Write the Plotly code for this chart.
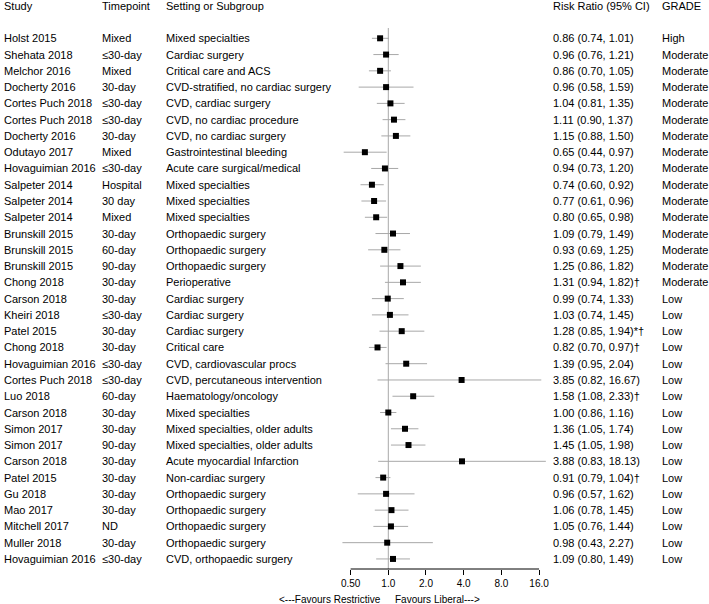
import plotly.graph_objects as go

# ── Data ──────────────────────────────────────────────────────────────────────
studies = [
    "Holst 2015", "Shehata 2018", "Melchor 2016", "Docherty 2016", "Cortes Puch 2018",
    "Cortes Puch 2018", "Docherty 2016", "Odutayo 2017", "Hovaguimian 2016", "Salpeter 2014",
    "Salpeter 2014", "Salpeter 2014", "Brunskill 2015", "Brunskill 2015", "Brunskill 2015",
    "Chong 2018", "Carson 2018", "Kheiri 2018", "Patel 2015", "Chong 2018",
    "Hovaguimian 2016", "Cortes Puch 2018", "Luo 2018", "Carson 2018", "Simon 2017",
    "Simon 2017", "Carson 2018", "Patel 2015", "Gu 2018", "Mao 2017",
    "Mitchell 2017", "Muller 2018", "Hovaguimian 2016",
]
timepoints = [
    "Mixed", "≤30-day", "Mixed", "30-day", "≤30-day",
    "≤30-day", "30-day", "Mixed", "≤30-day", "Hospital",
    "30 day", "Mixed", "30-day", "60-day", "90-day",
    "30-day", "30-day", "≤30-day", "30-day", "30-day",
    "≤30-day", "≤30-day", "60-day", "30-day", "30-day",
    "90-day", "30-day", "30-day", "30-day", "30-day",
    "ND", "30-day", "≤30-day",
]
settings = [
    "Mixed specialties", "Cardiac surgery", "Critical care and ACS",
    "CVD-stratified, no cardiac surgery", "CVD, cardiac surgery",
    "CVD, no cardiac procedure", "CVD, no cardiac surgery", "Gastrointestinal bleeding",
    "Acute care surgical/medical", "Mixed specialties",
    "Mixed specialties", "Mixed specialties", "Orthopaedic surgery",
    "Orthopaedic surgery", "Orthopaedic surgery",
    "Perioperative", "Cardiac surgery", "Cardiac surgery", "Cardiac surgery", "Critical care",
    "CVD, cardiovascular procs", "CVD, percutaneous intervention", "Haematology/oncology",
    "Mixed specialties", "Mixed specialties, older adults",
    "Mixed specialties, older adults", "Acute myocardial Infarction", "Non-cardiac surgery",
    "Orthopaedic surgery", "Orthopaedic surgery",
    "Orthopaedic surgery", "Orthopaedic surgery", "CVD, orthopaedic surgery",
]
rr = [0.86, 0.96, 0.86, 0.96, 1.04, 1.11, 1.15, 0.65, 0.94, 0.74,
      0.77, 0.80, 1.09, 0.93, 1.25, 1.31, 0.99, 1.03, 1.28, 0.82,
      1.39, 3.85, 1.58, 1.00, 1.36, 1.45, 3.88, 0.91, 0.96, 1.06,
      1.05, 0.98, 1.09]
ci_low = [0.74, 0.76, 0.70, 0.58, 0.81, 0.90, 0.88, 0.44, 0.73, 0.60,
          0.61, 0.65, 0.79, 0.69, 0.86, 0.94, 0.74, 0.74, 0.85, 0.70,
          0.95, 0.82, 1.08, 0.86, 1.05, 1.05, 0.83, 0.79, 0.57, 0.78,
          0.76, 0.43, 0.80]
ci_high = [1.01, 1.21, 1.05, 1.59, 1.35, 1.37, 1.50, 0.97, 1.20, 0.92,
           0.96, 0.98, 1.49, 1.25, 1.82, 1.82, 1.33, 1.45, 1.94, 0.97,
           2.04, 16.67, 2.33, 1.16, 1.74, 1.98, 18.13, 1.04, 1.62, 1.45,
           1.44, 2.27, 1.49]
notes = ["", "", "", "", "", "", "", "", "", "",
         "", "", "", "", "", "†", "", "", "*†", "†",
         "", "", "†", "", "", "", "", "†", "", "",
         "", "", ""]
grades = ["High"] + ["Moderate"] * 15 + ["Low"] * 17

headers = ["Study", "Timepoint", "Setting or Subgroup", "Risk Ratio (95% CI)", "GRADE"]
tick_vals = [0.5, 1, 2, 4, 8, 16]
tick_text = ["0.50", "1.0", "2.0", "4.0", "8.0", "16.0"]

# ── Layout geometry (pixels in the 709x604 page) ──────────────────────────────
W, H = 709, 604
ROW0_PX, ROW_STEP = 38.3, 16.27
PLOT_TOP, PLOT_BOT = 20, 569
X_LEFT, X_RIGHT = 320, 562
ONE_PX, PX_PER_DECADE = 388.3, 125.2
col_px = [2, 100, 164, 551, 660]

C_LINE = "#a8a8a8"
FONT = "Liberation Sans, Arial, sans-serif"

n = len(studies)
rows = list(range(n))

ci_x, ci_y = [], []
for i in rows:
    ci_x += [ci_low[i], ci_high[i], None]
    ci_y += [i, i, None]

fig = go.Figure()
fig.add_trace(go.Scatter(
    x=ci_x, y=ci_y, mode="lines",
    line=dict(color=C_LINE, width=1),
    hoverinfo="skip", showlegend=False,
))
fig.add_trace(go.Scatter(
    x=rr, y=rows, mode="markers",
    marker=dict(symbol="square", size=6, color="black"),
    showlegend=False,
    hovertemplate="RR %{x:.2f}<extra></extra>",
))

# reference line at RR = 1 and the bounded x axis line
fig.add_shape(type="line", xref="x", yref="paper", x0=1, x1=1,
              y0=1 - PLOT_BOT / H, y1=1 - 28 / H,
              line=dict(color=C_LINE, width=1), layer="below")
fig.add_shape(type="line", xref="x", yref="paper", x0=tick_vals[0], x1=tick_vals[-1],
              y0=1 - PLOT_BOT / H, y1=1 - PLOT_BOT / H,
              line=dict(color="black", width=1))

# table columns
columns = [
    studies, timepoints, settings,
    [f"{rr[i]:.2f} ({ci_low[i]:.2f}, {ci_high[i]:.2f}){notes[i]}" for i in rows],
    grades,
]
for c, col in enumerate(columns):
    fig.add_annotation(text=headers[c], xref="paper", yref="paper",
                       x=col_px[c] / W, y=1 - 6 / H, xanchor="left", yanchor="middle",
                       showarrow=False, font=dict(size=11, color="black"))
    for i in rows:
        fig.add_annotation(text=col[i], xref="paper", yref="y",
                           x=col_px[c] / W, y=i, xanchor="left", yanchor="middle",
                           showarrow=False, font=dict(size=11, color="black"))

fig.add_annotation(text="<---Favours Restrictive", xref="paper", yref="paper",
                   x=383 / W, y=1 - 599 / H, xanchor="right", yanchor="middle",
                   showarrow=False, font=dict(size=10, color="black"))
fig.add_annotation(text="Favours Liberal--->", xref="paper", yref="paper",
                   x=393 / W, y=1 - 599 / H, xanchor="left", yanchor="middle",
                   showarrow=False, font=dict(size=10, color="black"))

x_lo = (X_LEFT - ONE_PX) / PX_PER_DECADE
x_hi = (X_RIGHT - ONE_PX) / PX_PER_DECADE

fig.update_layout(
    width=W, height=H,
    margin=dict(l=0, r=0, t=0, b=0),
    paper_bgcolor="white", plot_bgcolor="white",
    font=dict(family=FONT, color="black", size=11),
    xaxis=dict(
        type="log", range=[x_lo, x_hi],
        domain=[X_LEFT / W, X_RIGHT / W],
        tickvals=tick_vals, ticktext=tick_text,
        ticks="outside", ticklen=5, tickcolor="black", tickwidth=1,
        tickfont=dict(size=10, color="black"),
        showline=False, showgrid=False, zeroline=False, automargin=False,
    ),
    yaxis=dict(
        range=[(PLOT_BOT - ROW0_PX) / ROW_STEP, (PLOT_TOP - ROW0_PX) / ROW_STEP],
        domain=[1 - PLOT_BOT / H, 1 - PLOT_TOP / H],
        visible=False, automargin=False,
    ),
)

# page body has a default 8px margin; drop it so the figure fills the window
fig.write_html("out.html",
               config={"displayModeBar": False},
               post_script="document.body.style.margin='0';document.body.style.overflow='hidden';")
